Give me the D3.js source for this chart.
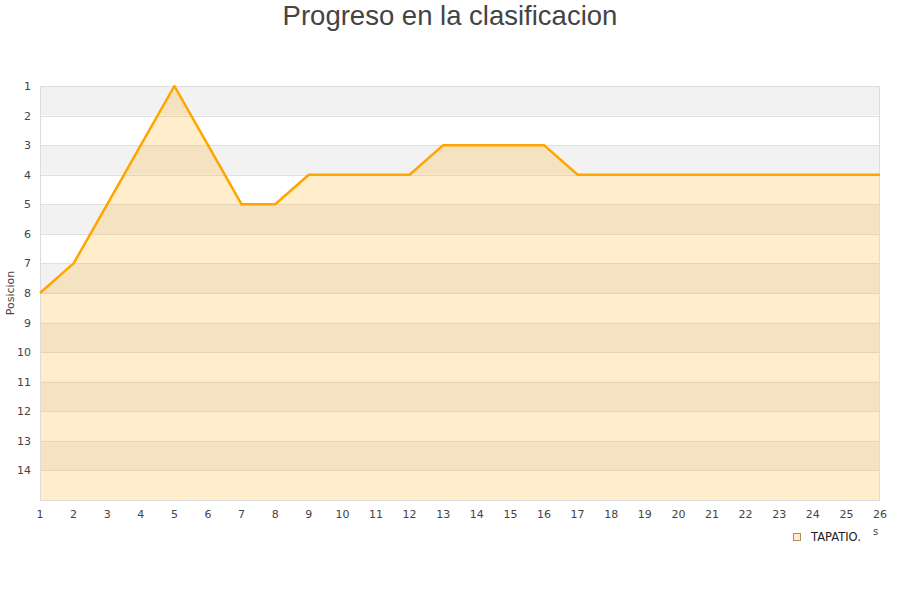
<!DOCTYPE html>
<html>
<head>
<meta charset="utf-8">
<script src="https://cdn.jsdelivr.net/npm/d3@7"></script>
<style>
  html, body { margin: 0; padding: 0; background: #fff; }
  svg { display: block; font-family: "DejaVu Sans", sans-serif; }
</style>
</head>
<body>
<svg id="chart" width="900" height="600"></svg>
<script>
// Jornadas and standing of the team after each one
const rounds = [1, 2, 3, 4, 5, 6, 7, 8, 9, 10, 11, 12, 13, 14, 15, 16, 17, 18, 19, 20, 21, 22, 23, 24, 25, 26];
const positions = [8, 7, 5, 3, 1, 3, 5, 5, 4, 4, 4, 4, 3, 3, 3, 3, 4, 4, 4, 4, 4, 4, 4, 4, 4, 4];
const yTicks = [1, 2, 3, 4, 5, 6, 7, 8, 9, 10, 11, 12, 13, 14];
const seriesName = "TAPATIO.";
const chartTitle = "Progreso en la clasificacion";
const yTitle = "Posicion";

const svg = d3.select("#chart");
const plotLeft = 40, plotRight = 880, plotTop = 86, plotBottom = 500;

const x = d3.scaleLinear().domain([1, 26]).range([plotLeft, plotRight]);
const y = d3.scaleLinear().domain([1, 15]).range([plotTop, plotBottom]);

// Alternating horizontal bands
const bands = d3.range(1, 15);
svg.append("g").selectAll("rect").data(bands).join("rect")
  .attr("x", plotLeft).attr("width", plotRight - plotLeft)
  .attr("y", d => y(d)).attr("height", d => y(d + 1) - y(d))
  .attr("fill", d => d % 2 === 1 ? "#f2f2f2" : "#ffffff");

// Grid lines
svg.append("g").selectAll("line").data(yTicks.concat([15])).join("line")
  .attr("x1", plotLeft).attr("x2", plotRight)
  .attr("y1", d => Math.round(y(d)) + 0.5).attr("y2", d => Math.round(y(d)) + 0.5)
  .attr("stroke", "#e0e0e0").attr("stroke-width", 1);

// Area under the line
const area = d3.area()
  .x((d, i) => x(rounds[i]))
  .y0(y(15))
  .y1(d => y(d));
svg.append("path").datum(positions)
  .attr("d", area)
  .attr("fill", "#ffa500").attr("fill-opacity", 0.2);

// Plot frame
svg.append("rect")
  .attr("x", plotLeft + 0.5).attr("y", plotTop + 0.5)
  .attr("width", plotRight - plotLeft - 1).attr("height", plotBottom - plotTop)
  .attr("fill", "none").attr("stroke", "#dcdcdc");

// Line
const line = d3.line().x((d, i) => x(rounds[i])).y(d => y(d));
svg.append("path").datum(positions)
  .attr("d", line)
  .attr("fill", "none").attr("stroke", "#ffa500").attr("stroke-width", 2.5)
  .attr("stroke-linejoin", "round");

// Y axis labels
svg.append("g").selectAll("text").data(yTicks).join("text")
  .attr("x", 31).attr("y", d => y(d) + 4)
  .attr("text-anchor", "end")
  .attr("font-size", 11).attr("fill", "#444")
  .text(d => d);

// X axis labels
svg.append("g").selectAll("text").data(rounds).join("text")
  .attr("x", d => x(d)).attr("y", 518)
  .attr("text-anchor", "middle")
  .attr("font-size", 11).attr("fill", "#444")
  .text(d => d);

// Title
svg.append("text")
  .attr("x", 450).attr("y", 25)
  .attr("text-anchor", "middle")
  .attr("font-family", "'Liberation Sans', Arial, sans-serif")
  .attr("font-size", 27.5).attr("fill", "#444")
  .text(chartTitle);

// Y axis title
svg.append("text")
  .attr("transform", "translate(14,293) rotate(-90)")
  .attr("text-anchor", "middle")
  .attr("font-size", 11).attr("fill", "#444")
  .text(yTitle);

// Legend
svg.append("rect")
  .attr("x", 793.5).attr("y", 533.5).attr("width", 7).attr("height", 7)
  .attr("fill", "#ffedcc").attr("stroke", "#b09060").attr("stroke-width", 1);
svg.append("text")
  .attr("x", 811).attr("y", 541)
  .attr("font-size", 11.5).attr("fill", "#222")
  .text(seriesName);
svg.append("text")
  .attr("x", 873).attr("y", 535)
  .attr("font-size", 10).attr("fill", "#444")
  .text("s");
</script>
</body>
</html>
